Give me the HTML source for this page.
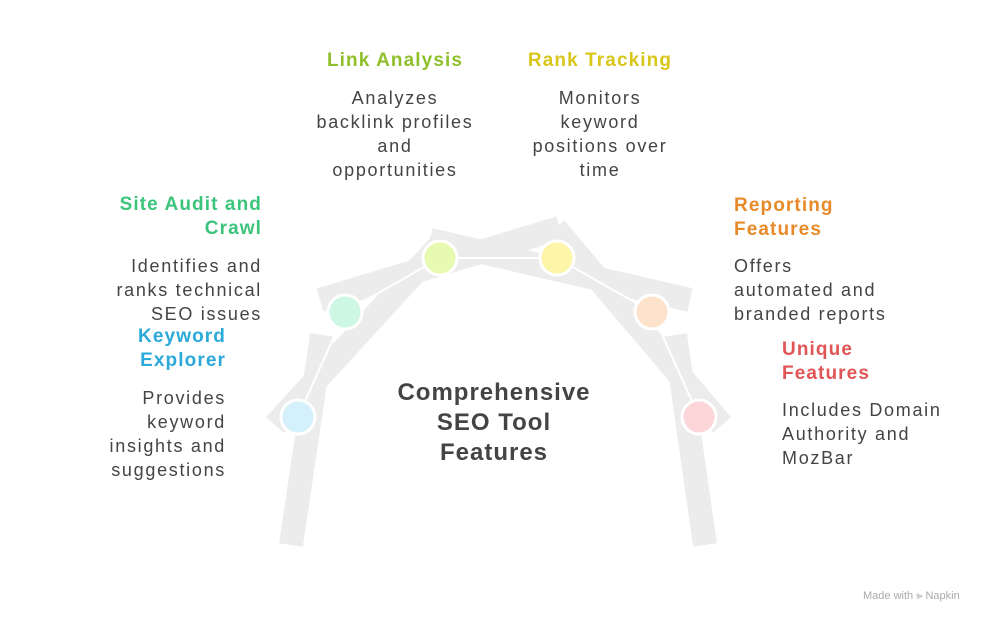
<!DOCTYPE html>
<html><head><meta charset="utf-8"><style>
body{margin:0;background:#fff;width:996px;height:625px;overflow:hidden;position:relative;font-family:"Liberation Sans",sans-serif}
.t{position:absolute;font-size:19px;font-weight:bold;line-height:24px;white-space:nowrap;letter-spacing:1.1px}
.d{position:absolute;font-size:18px;color:#444;line-height:24px;white-space:nowrap;letter-spacing:1.7px}
.r{text-align:right}.c{text-align:center}
</style></head><body>
<svg width="996" height="625" style="position:absolute;left:0;top:0">
<g stroke="#ececec" stroke-width="24" fill="none" stroke-linecap="butt">
<line x1="291" y1="545" x2="322" y2="335"/>
<line x1="275" y1="425" x2="440" y2="245"/>
<line x1="320" y1="300" x2="560" y2="228"/>
<line x1="430" y1="240" x2="690" y2="300"/>
<line x1="555" y1="228" x2="722" y2="425"/>
<line x1="705" y1="545" x2="675" y2="335"/>
</g>
<g stroke="#fff" stroke-width="2" fill="none">
<polyline points="298,417 345,312 440,258 557,258 652,312 699,417"/>
</g>
<g stroke="#fff" stroke-width="3">
<circle cx="298" cy="417" r="17" fill="#d3f0fb"/>
<circle cx="345" cy="312" r="17" fill="#cdf7e3"/>
<circle cx="440" cy="258" r="17" fill="#e6fbb0"/>
<circle cx="557" cy="258" r="17" fill="#fdf6a8"/>
<circle cx="652" cy="312" r="17" fill="#fde2cc"/>
<circle cx="699" cy="417" r="17" fill="#fcd6d8"/>
</g>
</svg>
<div class="t c" style="left:300px;top:49px;width:190px;color:#8fbf2a">Link Analysis</div>
<div class="d c" style="left:290px;top:86px;width:210px">Analyzes<br>backlink profiles<br>and<br>opportunities</div>
<div class="t c" style="left:505px;top:49px;width:190px;color:#d9c61a">Rank Tracking</div>
<div class="d c" style="left:500px;top:86px;width:200px">Monitors<br>keyword<br>positions over<br>time</div>
<div class="t r" style="left:40px;top:193px;width:222px;color:#3cc47c">Site Audit and<br>Crawl</div>
<div class="d r" style="left:40px;top:254px;width:222px">Identifies and<br>ranks technical<br>SEO issues</div>
<div class="t r" style="left:40px;top:325px;width:186px;color:#2ba9d9">Keyword<br>Explorer</div>
<div class="d r" style="left:40px;top:386px;width:186px">Provides<br>keyword<br>insights and<br>suggestions</div>
<div class="t" style="left:734px;top:194px;color:#e88a2a">Reporting<br>Features</div>
<div class="d" style="left:734px;top:254px">Offers<br>automated and<br>branded reports</div>
<div class="t" style="left:782px;top:338px;color:#e05555">Unique<br>Features</div>
<div class="d" style="left:782px;top:398px">Includes Domain<br>Authority and<br>MozBar</div>
<div class="c" style="position:absolute;left:370px;top:378px;width:248px;font-size:24px;font-weight:bold;color:#444;line-height:30px;letter-spacing:1px">Comprehensive<br>SEO Tool<br>Features</div>
<div style="position:absolute;left:863px;top:590px;font-size:11px;color:#aaa">Made with ⪢ Napkin</div>
</body></html>
